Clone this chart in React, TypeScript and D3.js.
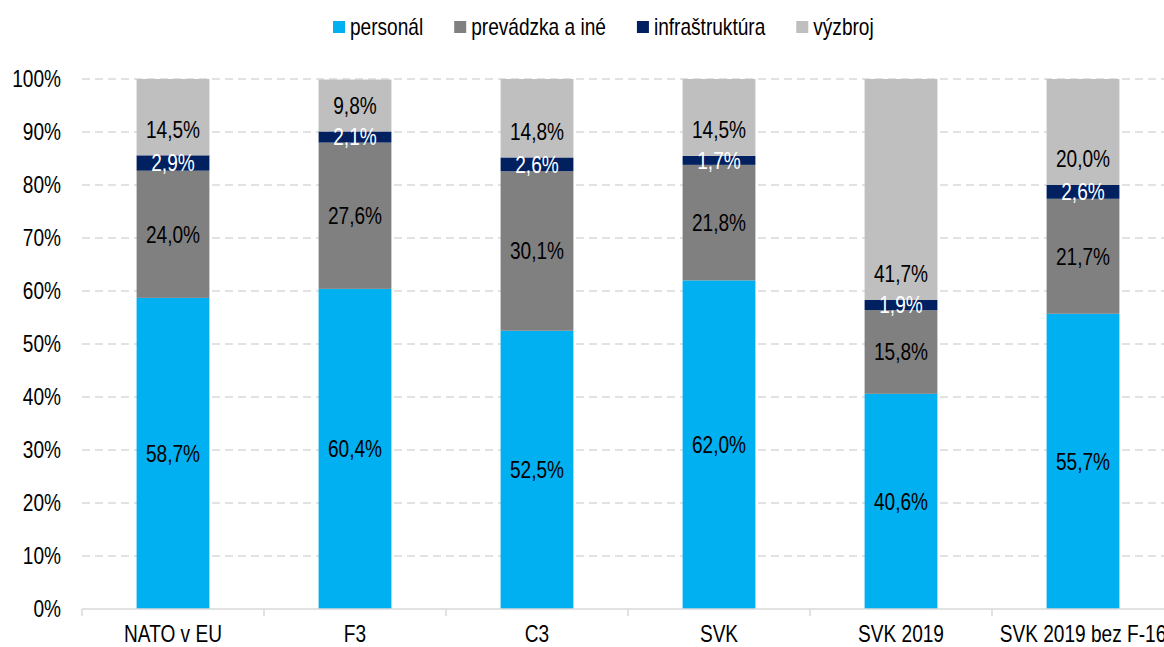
import React, { useEffect, useRef } from 'react';
import * as d3 from 'd3';

// data
const categories = ['NATO v EU', 'F3', 'C3', 'SVK', 'SVK 2019', 'SVK 2019 bez F-16'];
const seriesNames = ['personál', 'prevádzka a iné', 'infraštruktúra', 'výzbroj'];
const personal = [58.7, 60.4, 52.5, 62.0, 40.6, 55.7];
const prevadzka = [24.0, 27.6, 30.1, 21.8, 15.8, 21.7];
const infra = [2.9, 2.1, 2.6, 1.7, 1.9, 2.6];
const vyzbroj = [14.5, 9.8, 14.8, 14.5, 41.7, 20.0];
const yTicks = [0, 10, 20, 30, 40, 50, 60, 70, 80, 90, 100];

const colors = ['#00b0f0', '#808080', '#002060', '#bfbfbf'];
const labelColors = ['#000', '#000', '#fff', '#000'];
const FONT = "'Liberation Sans', Arial, sans-serif";
const FS = 23;
const SX = 0.83; // narrow font look

const fmt = (v: number) => v.toFixed(1).replace('.', ',') + '%';

export default function App() {
  const ref = useRef<SVGSVGElement>(null);

  useEffect(() => {
    const W = 1164, H = 647;
    const margin = { top: 79, left: 82, bottom: 38, right: 0 };
    const svg = d3.select(ref.current).attr('width', W).attr('height', H);
    svg.selectAll('*').remove();

    const addText = (g: any, tx: number, ty: number, txt: string, anchor: string, fill: string) =>
      g.append('text')
        .attr('transform', `translate(${tx},${ty}) scale(${SX},1)`)
        .attr('dy', '0.36em')
        .attr('text-anchor', anchor)
        .style('font-family', FONT).style('font-size', FS + 'px')
        .attr('fill', fill)
        .text(txt);

    const bandW = 182;
    const x = d3.scaleBand<string>()
      .domain(categories)
      .range([margin.left, margin.left + bandW * categories.length])
      .paddingInner(0.6)
      .paddingOuter(0.3);
    const y = d3.scaleLinear().domain([0, 100]).range([H - margin.bottom, margin.top]);

    // gridlines
    svg.append('g').selectAll('line').data(yTicks.slice(1)).join('line')
      .attr('x1', margin.left).attr('x2', W)
      .attr('y1', d => y(d)).attr('y2', d => y(d))
      .attr('stroke', '#d9d9d9').attr('stroke-width', 1.5)
      .attr('stroke-dasharray', '8,5');

    // y labels
    const yl = svg.append('g');
    yTicks.forEach(t => addText(yl, 61, y(t), t + '%', 'end', '#000'));

    // stacks
    const rows = categories.map((c, i) => ({
      cat: c, s0: personal[i], s1: prevadzka[i], s2: infra[i], s3: vyzbroj[i],
    }));
    const stacked = d3.stack<any>().keys(['s0', 's1', 's2', 's3'])(rows);

    stacked.forEach((layer, li) => {
      const g = svg.append('g');
      g.selectAll('rect').data(layer).join('rect')
        .attr('x', d => x(d.data.cat)!)
        .attr('width', x.bandwidth())
        .attr('y', d => y(Math.min(100, d[1])))
        .attr('height', d => y(d[0]) - y(Math.min(100, d[1])))
        .attr('fill', colors[li]);
    });
    stacked.forEach((layer, li) => {
      const g = svg.append('g');
      layer.forEach(d => {
        const cx = x(d.data.cat)! + x.bandwidth() / 2;
        // top series labels sit at the inside base, others centered
        const cy = li === 3 ? y(d[0]) - 26 : y((d[0] + Math.min(100, d[1])) / 2);
        addText(g, cx, cy, fmt(d[1] - d[0]), 'middle', labelColors[li]);
      });
    });

    // x axis
    const y0 = y(0);
    svg.append('line').attr('x1', margin.left).attr('x2', W)
      .attr('y1', y0).attr('y2', y0).attr('stroke', '#d9d9d9').attr('stroke-width', 1.5);
    svg.append('g').selectAll('line').data(d3.range(categories.length + 1)).join('line')
      .attr('x1', i => margin.left + i * bandW).attr('x2', i => margin.left + i * bandW)
      .attr('y1', y0).attr('y2', y0 + 7)
      .attr('stroke', '#d9d9d9').attr('stroke-width', 1.5);
    const xl = svg.append('g');
    categories.forEach(c => addText(xl, x(c)! + x.bandwidth() / 2, 634, c, 'middle', '#000'));

    // legend
    const lg = svg.append('g');
    let lx = 333;
    seriesNames.forEach((name, i) => {
      lg.append('rect').attr('x', lx).attr('y', 21).attr('width', 12).attr('height', 12)
        .attr('fill', colors[i]);
      const t = addText(lg, lx + 17, 27, name, 'start', '#000');
      const w = (t.node() as SVGTextElement).getComputedTextLength() * SX;
      lx += 17 + w + 31;
    });
  }, []);

  return (
    <svg ref={ref} style={{ position: 'absolute', left: 0, top: 0 }}></svg>
  );
}
